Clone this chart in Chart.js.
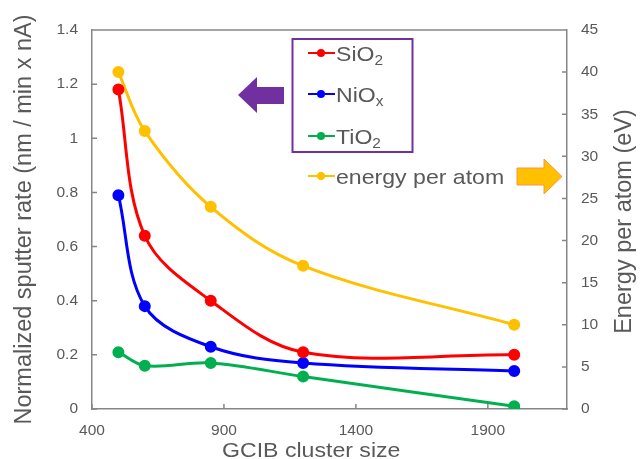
<!DOCTYPE html>
<html>
<head>
<meta charset="utf-8">
<script src="https://cdn.jsdelivr.net/npm/chart.js@4.4.1/dist/chart.umd.min.js"></script>
<style>body{margin:0;background:#fff}</style>
</head>
<body>
<canvas id="c" width="640" height="459"></canvas>
<script>
// data
var clusterSize = [500, 600, 850, 1200, 2000];
var sio2 = [1.18, 0.64, 0.40, 0.21, 0.20];
var niox = [0.79, 0.38, 0.23, 0.17, 0.14];
var tio2 = [0.21, 0.16, 0.17, 0.12, 0.01];
var energy = [40, 33, 24, 17, 10];
var seriesNames = ['SiO_2', 'NiO_x', 'TiO_2', 'energy per atom']; // "_" = subscript follows
var seriesColors = ['#ff0000', '#0000ff', '#00b050', '#ffc000'];
var xTicks = [400, 900, 1400, 1900];

var FONT = "'Liberation Sans', Arial, sans-serif";
var GRAY = '#595959';
var AXIS = '#868686';

function pts(vals) {
    return clusterSize.map(function (x, i) { return {x: x, y: vals[i]}; });
}
function ds(i, vals, axis) {
    return {
        label: seriesNames[i].replace('_', ''),
        data: pts(vals),
        yAxisID: axis,
        borderColor: seriesColors[i],
        backgroundColor: seriesColors[i],
        borderWidth: 3,
        pointRadius: 4.5,
        pointHoverRadius: 4.5,
        tension: 0.35
    };
}

// text with optional subscript, slightly stretched sideways like the original
function richText(c, str, x, y, size, sx) {
    var parts = str.split('_');
    c.save();
    c.translate(x, y);
    c.scale(sx, 1);
    c.fillStyle = GRAY;
    c.textAlign = 'left';
    c.textBaseline = 'alphabetic';
    c.font = size + 'px ' + FONT;
    c.fillText(parts[0], 0, 0);
    if (parts[1]) {
        var w = c.measureText(parts[0]).width;
        c.font = Math.round(size * 0.68) + 'px ' + FONT;
        c.fillText(parts[1], w, size * 0.2);
    }
    c.restore();
}

var deco = {
    id: 'deco',
    afterDraw: function (chart) {
        var c = chart.ctx, a = chart.chartArea;
        var sx = chart.scales.x, yl = chart.scales.y, yr = chart.scales.y2;
        c.save();

        // top border and inward tick marks
        c.strokeStyle = AXIS;
        c.lineWidth = 1.5;
        c.beginPath();
        c.moveTo(a.left, a.top); c.lineTo(a.right, a.top);
        xTicks.forEach(function (v) {
            var p = sx.getPixelForValue(v);
            c.moveTo(p, a.bottom); c.lineTo(p, a.bottom - 5);
        });
        yl.ticks.forEach(function (t) {
            var p = yl.getPixelForValue(t.value);
            c.moveTo(a.left, p); c.lineTo(a.left + 5, p);
        });
        yr.ticks.forEach(function (t) {
            var p = yr.getPixelForValue(t.value);
            c.moveTo(a.right, p); c.lineTo(a.right - 5, p);
        });
        c.stroke();

        // axis titles
        richText(c, 'GCIB cluster size', 222, 457, 21, 1.1);
        c.fillStyle = GRAY;
        c.font = '23.5px ' + FONT;
        c.textAlign = 'center';
        c.textBaseline = 'alphabetic';
        c.save();
        c.translate(31, (a.top + a.bottom) / 2);
        c.rotate(-Math.PI / 2);
        c.fillText('Normalized sputter rate (nm / min x nA)', 0, 0);
        c.restore();
        c.save();
        c.translate(631, (a.top + a.bottom) / 2 + 2);
        c.rotate(-Math.PI / 2);
        c.fillText('Energy per atom (eV)', 0, 0);
        c.restore();

        // legend
        c.strokeStyle = '#7030a0';
        c.lineWidth = 2;
        c.strokeRect(292.5, 39, 120, 113);
        var rows = [53, 94, 136, 176];
        seriesNames.forEach(function (name, i) {
            var y = rows[i];
            c.strokeStyle = seriesColors[i];
            c.fillStyle = seriesColors[i];
            c.lineWidth = 2;
            c.beginPath(); c.moveTo(308, y); c.lineTo(335, y); c.stroke();
            c.beginPath(); c.arc(321, y, 4, 0, Math.PI * 2); c.fill();
            richText(c, name, 336, y + 7.5, 21, 1.1);
        });

        // arrows
        c.fillStyle = '#7030a0';
        c.beginPath();
        c.moveTo(238, 95); c.lineTo(257, 77); c.lineTo(257, 87); c.lineTo(284, 87);
        c.lineTo(284, 104); c.lineTo(257, 104); c.lineTo(257, 113);
        c.closePath(); c.fill();

        c.fillStyle = '#ffc000';
        c.strokeStyle = '#f79646';
        c.lineWidth = 1;
        c.beginPath();
        c.moveTo(517, 168); c.lineTo(544, 168); c.lineTo(544, 159); c.lineTo(562, 176.5);
        c.lineTo(544, 194); c.lineTo(544, 185); c.lineTo(517, 185);
        c.closePath(); c.fill(); c.stroke();

        c.restore();
    }
};

Chart.defaults.font.family = FONT;
Chart.defaults.color = GRAY;

new Chart(document.getElementById('c').getContext('2d'), {
    type: 'line',
    data: {
        datasets: [ds(0, sio2, 'y'), ds(1, niox, 'y'), ds(2, tio2, 'y'), ds(3, energy, 'y2')]
    },
    options: {
        responsive: false,
        animation: false,
        devicePixelRatio: 1,
        layout: {padding: {top: 30, left: 0, right: 0, bottom: 0}},
        plugins: {legend: {display: false}, tooltip: {enabled: false}},
        scales: {
            x: {
                type: 'linear',
                min: 400, max: 2200,
                afterBuildTicks: function (s) { s.ticks = xTicks.map(function (v) { return {value: v}; }); },
                afterFit: function (s) { s.height = 50; },
                ticks: {font: {size: 15.5}, color: GRAY, padding: 12, maxRotation: 0,
                    callback: function (v) { return String(v); }},
                grid: {drawOnChartArea: false, drawTicks: false},
                border: {color: AXIS, width: 1.5}
            },
            y: {
                position: 'left',
                min: 0, max: 1.4,
                ticks: {stepSize: 0.2, font: {size: 15.5}, color: GRAY, padding: 14,
                    callback: function (v) { return String(+v.toFixed(1)); }},
                afterFit: function (s) { s.width = 92; },
                grid: {drawOnChartArea: false, drawTicks: false},
                border: {color: AXIS, width: 1.5}
            },
            y2: {
                position: 'right',
                min: 0, max: 45,
                ticks: {stepSize: 5, font: {size: 15.5}, color: GRAY, padding: 14},
                afterFit: function (s) { s.width = 73; },
                grid: {drawOnChartArea: false, drawTicks: false},
                border: {color: AXIS, width: 1.5}
            }
        }
    },
    plugins: [deco]
});
</script>
</body>
</html>
